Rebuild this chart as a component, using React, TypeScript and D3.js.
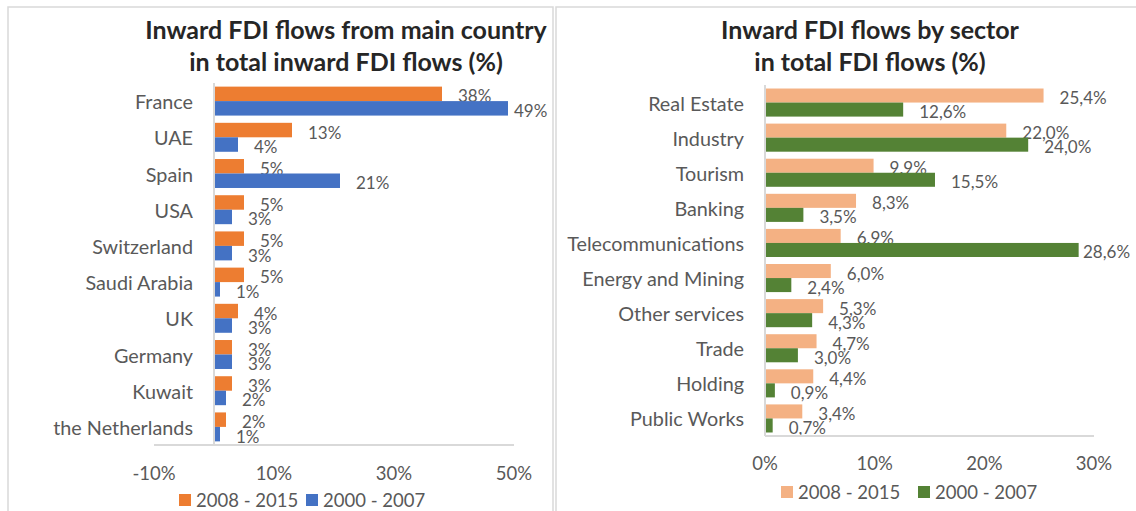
import React from "react";
import { scaleBand, scaleLinear } from "d3";

// left chart: main source countries
const countries = [
  "France",
  "UAE",
  "Spain",
  "USA",
  "Switzerland",
  "Saudi Arabia",
  "UK",
  "Germany",
  "Kuwait",
  "the Netherlands",
];
const countryRecent = [38, 13, 5, 5, 5, 5, 4, 3, 3, 2]; // 2008 - 2015
const countryEarly = [49, 4, 21, 3, 3, 1, 3, 3, 2, 1]; // 2000 - 2007
const countryTicks = [-10, 10, 30, 50];

// right chart: sectors
const sectors = [
  "Real Estate",
  "Industry",
  "Tourism",
  "Banking",
  "Telecommunications",
  "Energy and Mining",
  "Other services",
  "Trade",
  "Holding",
  "Public Works",
];
const sectorRecent = [25.4, 22.0, 9.9, 8.3, 6.9, 6.0, 5.3, 4.7, 4.4, 3.4];
const sectorEarly = [12.6, 24.0, 15.5, 3.5, 28.6, 2.4, 4.3, 3.0, 0.9, 0.7];
const sectorTicks = [0, 10, 20, 30];

const seriesNames = ["2008 - 2015", "2000 - 2007"];

const FONT = "Lato, 'Open Sans', sans-serif";
const GRAY = "#595959";
const AXIS = "#d9d9d9";

type PanelProps = {
  x0: number;
  x1: number;
  title: string[];
  titleX: number;
  cats: string[];
  recent: number[];
  early: number[];
  ticks: number[];
  domain: [number, number];
  xRange: [number, number];
  yRange: [number, number];
  tickY: number;
  legendY: number;
  legendX: number[];
  colors: string[];
  fmt: (v: number) => string;
  labelMax: number;
};

const Panel = (p: PanelProps) => {
  const x = scaleLinear().domain(p.domain).range(p.xRange);
  const y = scaleBand<string>()
    .domain(p.cats)
    .range(p.yRange)
    .paddingInner(0.2)
    .paddingOuter(0.1);
  const inner = scaleBand<string>()
    .domain(seriesNames)
    .range([0, y.bandwidth()]);
  const zero = x(0);
  const series = [p.recent, p.early];

  return (
    <g>
      <rect
        x={p.x0}
        y={7}
        width={p.x1 - p.x0}
        height={520}
        fill="white"
        stroke={AXIS}
        strokeWidth={1.5}
      />
      <text
        x={p.titleX}
        textAnchor="middle"
        fontFamily={FONT}
        fontWeight="bold"
        fontSize={25}
        fill="#262626"
      >
        {p.title.map((t, i) => (
          <tspan key={i} x={p.titleX} y={39 + i * 32}>
            {t}
          </tspan>
        ))}
      </text>

      {p.cats.map((c, i) => (
        <g key={c}>
          <text
            x={zero - 21}
            y={(y(c) ?? 0) + y.bandwidth() / 2}
            textAnchor="end"
            dominantBaseline="central"
            fontFamily={FONT}
            fontSize={19.8}
            fill={GRAY}
          >
            {c}
          </text>
          {series.map((vals, s) => {
            const v = vals[i];
            const by = (y(c) ?? 0) + (inner(seriesNames[s]) ?? 0);
            const bh = inner.bandwidth();
            return (
              <g key={s}>
                <rect
                  x={zero}
                  y={by}
                  width={x(v) - zero}
                  height={bh}
                  fill={p.colors[s]}
                />
                <text
                  x={Math.min(x(v) + 16, p.labelMax)}
                  y={by + bh / 2 + 2}
                  dominantBaseline="central"
                  fontFamily={FONT}
                  fontSize={17}
                  fill={GRAY}
                >
                  {p.fmt(v)}
                </text>
              </g>
            );
          })}
        </g>
      ))}

      <line
        x1={zero}
        x2={zero}
        y1={p.yRange[0]}
        y2={p.yRange[1]}
        stroke={AXIS}
        strokeWidth={2}
      />
      <line
        x1={p.xRange[0]}
        x2={p.xRange[1]}
        y1={p.yRange[1]}
        y2={p.yRange[1]}
        stroke={AXIS}
        strokeWidth={2}
      />

      {p.ticks.map((t) => (
        <text
          key={t}
          x={x(t)}
          y={p.tickY}
          textAnchor="middle"
          dominantBaseline="central"
          fontFamily={FONT}
          fontSize={18.5}
          fill={GRAY}
        >
          {t}%
        </text>
      ))}

      {seriesNames.map((name, s) => (
        <g key={name}>
          <rect
            x={p.legendX[s]}
            y={p.legendY - 6}
            width={12}
            height={12}
            fill={p.colors[s]}
          />
          <text
            x={p.legendX[s] + 17}
            y={p.legendY}
            dominantBaseline="central"
            fontFamily={FONT}
            fontSize={18.5}
            fill={GRAY}
          >
            {name}
          </text>
        </g>
      ))}
    </g>
  );
};

const App = () => {
  return (
    <div style={{ position: "absolute", left: 0, top: 0 }}>
      <svg width={1136} height={511} style={{ display: "block" }}>
        <rect width={1136} height={511} fill="white" />
        <Panel
          x0={8}
          x1={553}
          title={["Inward FDI flows from main country", "in total inward FDI flows (%)"]}
          titleX={346}
          cats={countries}
          recent={countryRecent}
          early={countryEarly}
          ticks={countryTicks}
          domain={[-10, 50]}
          xRange={[154, 514]}
          yRange={[83, 445]}
          tickY={473}
          legendY={500}
          legendX={[179, 306]}
          colors={["#ED7D31", "#4472C4"]}
          fmt={(v) => `${v}%`}
          labelMax={514}
        />
        <Panel
          x0={556}
          x1={1150}
          title={["Inward FDI flows by sector", "in total FDI flows (%)"]}
          titleX={870}
          cats={sectors}
          recent={sectorRecent}
          early={sectorEarly}
          ticks={sectorTicks}
          domain={[0, 30]}
          xRange={[765, 1094]}
          yRange={[85, 436]}
          tickY={463}
          legendY={492}
          legendX={[781, 918]}
          colors={["#F4B183", "#548235"]}
          fmt={(v) => `${v.toFixed(1).replace(".", ",")}%`}
          labelMax={1083}
        />
      </svg>
    </div>
  );
};

export default App;
